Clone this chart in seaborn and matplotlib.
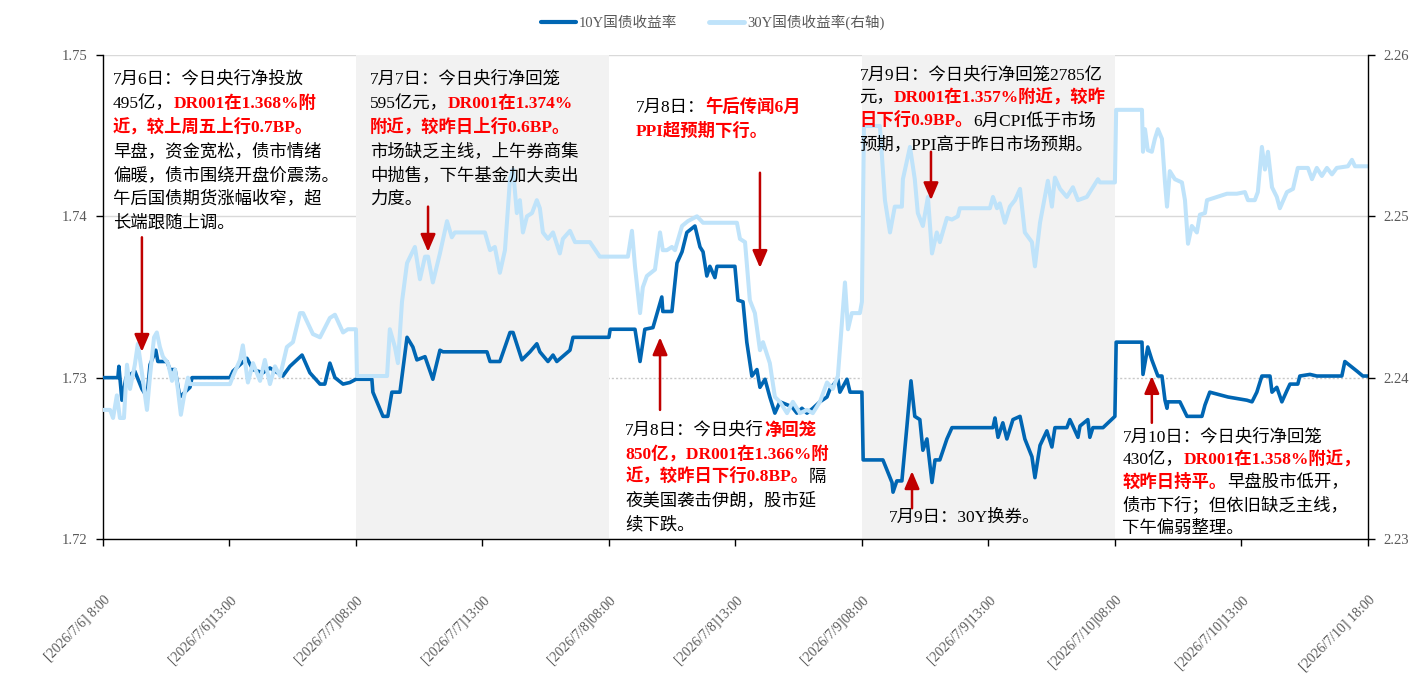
import matplotlib
matplotlib.use("Agg")
import matplotlib.pyplot as plt
from matplotlib.lines import Line2D
import seaborn as sns

# x = trading hours since [2026/7/6] 08:00, each session 08:00-18:00 = 10 h
ten_year = [
    # 7/6
    (0.00, 1.7300), (0.59, 1.7300), (0.63, 1.7307), (0.75, 1.7286), (0.91, 1.7300), (1.26, 1.7304),
    (1.54, 1.7293), (1.74, 1.7288), (1.86, 1.7308), (2.09, 1.7317), (2.17, 1.7310), (2.53, 1.7310),
    (2.65, 1.7305), (2.85, 1.7305), (3.04, 1.7288), (3.24, 1.7291), (3.44, 1.7294), (3.52, 1.7300),
    (5.02, 1.7300), (5.14, 1.7304), (5.69, 1.7312), (5.93, 1.7305), (6.32, 1.7303), (6.60, 1.7306),
    (7.11, 1.7301), (7.39, 1.7307), (7.87, 1.7314), (8.18, 1.7303), (8.58, 1.7296), (8.77, 1.7296),
    (8.97, 1.7309), (9.17, 1.7300), (9.49, 1.7296), (9.76, 1.7297), (10.00, 1.7299),
    # 7/7
    (10.63, 1.7299), (10.67, 1.7291), (11.07, 1.7276), (11.26, 1.7276), (11.42, 1.7291), (11.74, 1.7291),
    (12.02, 1.7325), (12.25, 1.7319), (12.41, 1.7311), (12.73, 1.7313), (13.04, 1.7299), (13.32, 1.7317),
    (13.44, 1.7316), (15.18, 1.7316), (15.30, 1.7310), (15.69, 1.7310), (16.09, 1.7328), (16.21, 1.7328),
    (16.56, 1.7311), (16.88, 1.7316), (17.15, 1.7321), (17.27, 1.7316), (17.59, 1.7310), (17.79, 1.7314),
    (17.94, 1.7310), (18.46, 1.7317), (18.58, 1.7325), (20.00, 1.7325),
    # 7/8
    (20.05, 1.7330), (21.03, 1.7330), (21.23, 1.7310), (21.42, 1.7330), (21.74, 1.7331), (22.09, 1.7350),
    (22.13, 1.7341), (22.49, 1.7341), (22.53, 1.7347), (22.69, 1.7371), (22.89, 1.7378), (23.08, 1.7390),
    (23.40, 1.7394), (23.60, 1.7381), (23.72, 1.7378), (23.87, 1.7363), (23.99, 1.7369), (24.19, 1.7362),
    (24.27, 1.7369), (24.98, 1.7369), (25.10, 1.7348), (25.30, 1.7347), (25.45, 1.7322), (25.65, 1.7301),
    (25.85, 1.7305), (25.97, 1.7294), (26.17, 1.7299), (26.36, 1.7288), (26.56, 1.7278), (26.76, 1.7285),
    (27.23, 1.7282), (27.43, 1.7278), (27.63, 1.7281), (27.83, 1.7278), (28.06, 1.7281), (28.34, 1.7285),
    (28.62, 1.7288), (28.74, 1.7293), (29.05, 1.7299), (29.13, 1.7291), (29.41, 1.7299), (29.53, 1.7291),
    (30.00, 1.7291),
    # 7/9
    (30.05, 1.7249), (30.83, 1.7249), (31.19, 1.7235), (31.23, 1.7229), (31.38, 1.7236), (31.58, 1.7236),
    (31.78, 1.7270), (31.94, 1.7298), (32.09, 1.7276), (32.29, 1.7274), (32.41, 1.7255), (32.57, 1.7262),
    (32.77, 1.7235), (32.89, 1.7249), (33.08, 1.7249), (33.36, 1.7262), (33.56, 1.7269), (35.18, 1.7269),
    (35.26, 1.7275), (35.38, 1.7263), (35.57, 1.7272), (35.73, 1.7262), (35.97, 1.7274), (36.25, 1.7276),
    (36.44, 1.7262), (36.72, 1.7251), (36.84, 1.7238), (37.04, 1.7258), (37.31, 1.7267), (37.51, 1.7257),
    (37.63, 1.7269), (38.10, 1.7269), (38.22, 1.7274), (38.34, 1.7270), (38.54, 1.7263), (38.62, 1.7270),
    (38.93, 1.7274), (39.01, 1.7263), (39.13, 1.7269), (39.53, 1.7269), (40.00, 1.7276),
    # 7/10
    (40.05, 1.7322), (41.07, 1.7322), (41.11, 1.7302), (41.30, 1.7319), (41.46, 1.7311), (41.70, 1.7301),
    (41.86, 1.7301), (41.98, 1.7286), (42.06, 1.7281), (42.09, 1.7285), (42.57, 1.7285), (42.85, 1.7276),
    (43.44, 1.7276), (43.56, 1.7283), (43.75, 1.7291), (44.47, 1.7288), (45.22, 1.7286), (45.42, 1.7285),
    (45.61, 1.7291), (45.81, 1.7301), (46.13, 1.7301), (46.21, 1.7291), (46.40, 1.7294), (46.60, 1.7285),
    (46.80, 1.7292), (46.92, 1.7296), (47.23, 1.7296), (47.31, 1.7301), (47.71, 1.7302), (47.98, 1.7301),
    (48.97, 1.7301), (49.09, 1.7310), (49.57, 1.7304), (49.80, 1.7301), (50.00, 1.7301),
]

thirty_year = [
    # 7/6
    (0.00, 2.2380), (0.28, 2.2380), (0.40, 2.2375), (0.55, 2.2389), (0.67, 2.2375), (0.83, 2.2375),
    (0.95, 2.2408), (1.07, 2.2393), (1.26, 2.2408), (1.38, 2.2421), (1.54, 2.2403), (1.74, 2.2380),
    (1.86, 2.2401), (2.02, 2.2425), (2.13, 2.2428), (2.25, 2.2419), (2.37, 2.2413), (2.57, 2.2409),
    (2.73, 2.2398), (2.85, 2.2405), (2.96, 2.2393), (3.08, 2.2377), (3.20, 2.2388), (3.36, 2.2400),
    (3.44, 2.2396), (5.02, 2.2396), (5.14, 2.2401), (5.42, 2.2411), (5.53, 2.2420), (5.73, 2.2397),
    (5.93, 2.2409), (6.21, 2.2398), (6.40, 2.2411), (6.60, 2.2396), (6.80, 2.2407), (7.00, 2.2401),
    (7.27, 2.2419), (7.51, 2.2422), (7.79, 2.2440), (7.91, 2.2440), (8.30, 2.2427), (8.58, 2.2425),
    (8.97, 2.2437), (9.17, 2.2439), (9.49, 2.2428), (9.68, 2.2430), (10.00, 2.2430),
    # 7/7
    (10.04, 2.2401), (11.23, 2.2401), (11.34, 2.2430), (11.54, 2.2419), (11.66, 2.2409), (11.82, 2.2447),
    (12.02, 2.2471), (12.33, 2.2481), (12.53, 2.2461), (12.73, 2.2475), (12.85, 2.2475), (13.04, 2.2459),
    (13.32, 2.2477), (13.60, 2.2497), (13.79, 2.2487), (13.91, 2.2490), (15.10, 2.2490), (15.30, 2.2479),
    (15.49, 2.2481), (15.69, 2.2465), (15.89, 2.2479), (16.09, 2.2523), (16.21, 2.2529), (16.36, 2.2502),
    (16.48, 2.2510), (16.60, 2.2490), (16.76, 2.2500), (16.96, 2.2502), (17.15, 2.2510), (17.27, 2.2505),
    (17.39, 2.2490), (17.59, 2.2486), (17.79, 2.2490), (18.06, 2.2477), (18.18, 2.2486), (18.46, 2.2491),
    (18.66, 2.2484), (19.25, 2.2484), (19.64, 2.2475), (20.00, 2.2475),
    # 7/8
    (20.75, 2.2475), (20.91, 2.2491), (21.03, 2.2469), (21.23, 2.2440), (21.34, 2.2456), (21.50, 2.2463),
    (21.82, 2.2467), (22.02, 2.2490), (22.13, 2.2479), (22.29, 2.2479), (22.49, 2.2481), (22.61, 2.2479),
    (22.89, 2.2494), (23.12, 2.2497), (23.48, 2.2500), (23.72, 2.2496), (25.06, 2.2496), (25.18, 2.2486),
    (25.38, 2.2484), (25.57, 2.2448), (25.77, 2.2440), (25.97, 2.2417), (26.09, 2.2422), (26.36, 2.2409),
    (26.56, 2.2388), (26.76, 2.2385), (27.04, 2.2378), (27.27, 2.2385), (27.55, 2.2378), (27.83, 2.2380),
    (28.06, 2.2378), (28.34, 2.2385), (28.62, 2.2397), (28.85, 2.2393), (29.05, 2.2401), (29.21, 2.2434),
    (29.33, 2.2459), (29.45, 2.2430), (29.60, 2.2440), (29.92, 2.2440), (30.00, 2.2447),
    # 7/9
    (30.08, 2.2556), (30.71, 2.2556), (30.91, 2.2510), (31.11, 2.2490), (31.30, 2.2506), (31.58, 2.2506),
    (31.62, 2.2523), (31.90, 2.2543), (32.09, 2.2523), (32.21, 2.2502), (32.41, 2.2494), (32.61, 2.2512),
    (32.77, 2.2477), (32.96, 2.2490), (33.08, 2.2484), (33.36, 2.2499), (33.56, 2.2498), (33.79, 2.2500),
    (33.87, 2.2505), (35.06, 2.2505), (35.18, 2.2512), (35.34, 2.2505), (35.45, 2.2508), (35.65, 2.2496),
    (35.85, 2.2506), (36.05, 2.2510), (36.25, 2.2517), (36.44, 2.2490), (36.72, 2.2484), (36.84, 2.2469),
    (37.04, 2.2496), (37.23, 2.2512), (37.35, 2.2522), (37.51, 2.2506), (37.63, 2.2524), (37.83, 2.2517),
    (38.10, 2.2512), (38.34, 2.2518), (38.54, 2.2510), (38.89, 2.2512), (39.13, 2.2518), (39.33, 2.2523),
    (39.41, 2.2521), (40.00, 2.2521),
    # 7/10
    (40.05, 2.2566), (41.07, 2.2566), (41.11, 2.2540), (41.19, 2.2554), (41.30, 2.2541), (41.46, 2.2540),
    (41.58, 2.2548), (41.70, 2.2554), (41.86, 2.2548), (41.98, 2.2521), (42.06, 2.2506), (42.17, 2.2528),
    (42.37, 2.2523), (42.65, 2.2521), (42.77, 2.2510), (42.89, 2.2483), (43.04, 2.2494), (43.24, 2.2490),
    (43.36, 2.2501), (43.56, 2.2502), (43.64, 2.2510), (44.03, 2.2512), (44.43, 2.2514), (44.82, 2.2514),
    (45.14, 2.2515), (45.26, 2.2510), (45.53, 2.2510), (45.65, 2.2515), (45.81, 2.2543), (45.93, 2.2529),
    (46.05, 2.2540), (46.21, 2.2518), (46.40, 2.2512), (46.52, 2.2505), (46.80, 2.2515), (47.04, 2.2517),
    (47.23, 2.2530), (47.63, 2.2530), (47.79, 2.2523), (47.98, 2.2530), (48.18, 2.2525), (48.38, 2.2530),
    (48.58, 2.2526), (48.77, 2.2530), (49.21, 2.2531), (49.37, 2.2535), (49.49, 2.2531), (50.00, 2.2531),
]

tick_pos = [0, 5, 10, 15, 20, 25, 30, 35, 40, 45, 50]
tick_labels = ["[2026/7/6] 8:00", "[2026/7/6]13:00", "[2026/7/7]08:00", "[2026/7/7]13:00",
               "[2026/7/8]08:00", "[2026/7/8]13:00", "[2026/7/9]08:00", "[2026/7/9]13:00",
               "[2026/7/10]08:00", "[2026/7/10]13:00", "[2026/7/10] 18:00"]
series_names = ["10Y国债收益率", "30Y国债收益率(右轴)"]
shaded_sessions = [(10, 20), (30, 40)]

# (x, tail yield, tip yield) on the left axis
arrows = [(1.54, 1.7387, 1.7316), (12.85, 1.7406, 1.7378), (22.02, 1.7280, 1.7325),
          (25.97, 1.7427, 1.7368), (32.73, 1.7440, 1.7410), (31.98, 1.7219, 1.7242),
          (41.46, 1.7272, 1.7301)]

# note boxes: (left, bottom of first line, line step) in axes fraction; segments (text, highlighted)
notes = [
    (0.008, 0.932, 0.0496, [
        [("7月6日：今日央行净投放", False)],
        [("495亿，", False), ("DR001在1.368%附", True)],
        [("近，较上周五上行0.7BP。", True)],
        [("早盘，资金宽松，债市情绪", False)],
        [("偏暖，债市围绕开盘价震荡。", False)],
        [("午后国债期货涨幅收窄，超", False)],
        [("长端跟随上调。", False)]]),
    (0.211, 0.932, 0.0496, [
        [("7月7日：今日央行净回笼", False)],
        [("595亿元，", False), ("DR001在1.374%", True)],
        [("附近，较昨日上行0.6BP。", True)],
        [("市场缺乏主线，上午券商集", False)],
        [("中抛售，下午基金加大卖出", False)],
        [("力度。", False)]]),
    (0.421, 0.874, 0.0496, [
        [("7月8日：", False), ("午后传闻6月", True)],
        [("PPI超预期下行。", True)]]),
    (0.598, 0.942, 0.0486, [
        [("7月9日：今日央行净回笼2785亿", False)],
        [("元，", False), ("DR001在1.357%附近，较昨", True)],
        [("日下行0.9BP。", True), ("6月CPI低于市场", False)],
        [("预期，PPI高于昨日市场预期。", False)]]),
    (0.413, 0.207, 0.0486, [
        [("7月8日：今日央行", False), ("净回笼", True)],
        [("850亿，DR001在1.366%附", True)],
        [("近，较昨日下行0.8BP。", True), ("隔", False)],
        [("夜美国袭击伊朗，股市延", False)],
        [("续下跌。", False)]]),
    (0.621, 0.027, 0.0486, [
        [("7月9日：30Y换券。", False)]]),
    (0.806, 0.194, 0.0476, [
        [("7月10日：今日央行净回笼", False)],
        [("430亿，", False), ("DR001在1.358%附近，", True)],
        [("较昨日持平。", True), ("早盘股市低开，", False)],
        [("债市下行；但依旧缺乏主线，", False)],
        [("下午偏弱整理。", False)]]),
]

FONT = ["Liberation Serif", "Noto Sans CJK SC"]
C10 = "#0066B3"
C30 = "#BFE3FA"
GREY = "#595959"


def rich_line(ax, x, y, segments, size):
    prev = None
    for txt, hot in segments:
        kw = dict(fontsize=size, family=FONT, color="#FF0000" if hot else "black",
                  fontweight="bold" if hot else "normal", ha="left", va="bottom")
        if prev is None:
            prev = ax.text(x, y, txt, transform=ax.transAxes, **kw)
        else:
            prev = ax.annotate(txt, xy=(1, 0), xycoords=prev, **kw)


def main():
    sns.set_style("white")
    plt.rcParams["font.family"] = FONT
    plt.rcParams["axes.unicode_minus"] = False

    fig = plt.figure(figsize=(14.2, 6.95), dpi=100)
    ax = fig.add_axes([0.0725, 0.2245, 0.8908, 0.6964])
    ax2 = ax.twinx()

    for a, b in shaded_sessions:
        ax.axvspan(a, b, color="#F2F2F2", lw=0, zorder=1)

    t10, y10 = zip(*ten_year)
    t30, y30 = zip(*thirty_year)
    sns.lineplot(x=list(t10), y=list(y10), ax=ax, color=C10, linewidth=2.6,
                 estimator=None, sort=False, zorder=3)
    sns.lineplot(x=list(t30), y=list(y30), ax=ax2, color=C30, linewidth=2.9,
                 estimator=None, sort=False)

    ax.set_xlim(0, 50)
    ax.set_ylim(1.72, 1.75)
    ax2.set_ylim(2.23, 2.26)
    ax.set_yticks([1.72, 1.73, 1.74, 1.75])
    ax.set_yticklabels(["1.72", "1.73", "1.74", "1.75"])
    ax2.set_yticks([2.23, 2.24, 2.25, 2.26])
    ax2.set_yticklabels(["2.23", "2.24", "2.25", "2.26"])
    ax.set_xticks(tick_pos)
    ax.set_xticklabels(tick_labels, rotation=45, ha="right", va="top",
                       rotation_mode="anchor", fontsize=10, color=GREY)
    for a in (ax, ax2):
        a.set_xlabel("")
        a.set_ylabel("")

    ax.set_axisbelow(True)
    ax.yaxis.grid(True, color="#D9D9D9", lw=1)
    ax.xaxis.grid(False)
    ax.get_ygridlines()[1].set_linestyle((0, (1.5, 1.5)))
    ax.get_ygridlines()[1].set_color("#C8C8C8")

    ax.spines["top"].set_visible(False)
    ax.spines["right"].set_visible(False)
    ax2.spines["top"].set_visible(False)
    ax2.spines["left"].set_visible(False)
    ax2.spines["bottom"].set_visible(False)
    for s in ("left", "bottom"):
        ax.spines[s].set_color("black")
        ax.spines[s].set_linewidth(1)
    ax2.spines["right"].set_color("black")
    ax2.spines["right"].set_linewidth(1)

    ax.tick_params(axis="x", bottom=True, direction="out", length=5, width=1,
                   color="black", pad=34)
    ax.tick_params(axis="y", left=True, direction="out", length=5, width=1,
                   color="black", labelcolor=GREY, labelsize=10.5, pad=6)
    ax2.tick_params(axis="y", right=True, direction="out", length=5, width=1,
                    color="black", labelcolor=GREY, labelsize=10.5, pad=6)

    for x, y_tail, y_tip in arrows:
        ax2.annotate("", xy=(x, y_tip), xytext=(x, y_tail),
                     xycoords=ax.transData, textcoords=ax.transData,
                     arrowprops=dict(arrowstyle="-|>,head_length=0.7,head_width=0.3",
                                     color="#C00000", lw=1.8, shrinkA=0, shrinkB=0,
                                     mutation_scale=15))

    for x0, y0, step, lines in notes:
        for i, segs in enumerate(lines):
            rich_line(ax2, x0, y0 - i * step, segs, 12.5)

    handles = [Line2D([0], [0], color=C10, lw=3), Line2D([0], [0], color=C30, lw=3.5)]
    fig.legend(handles, series_names, loc="center", bbox_to_anchor=(0.502, 0.968),
               ncol=2, frameon=False, prop=dict(family=FONT, size=10.5), labelcolor=GREY,
               handlelength=2.4, handletextpad=0.2, columnspacing=2.2)

    fig.savefig("out.png", dpi=100)


if __name__ == "__main__":
    main()
